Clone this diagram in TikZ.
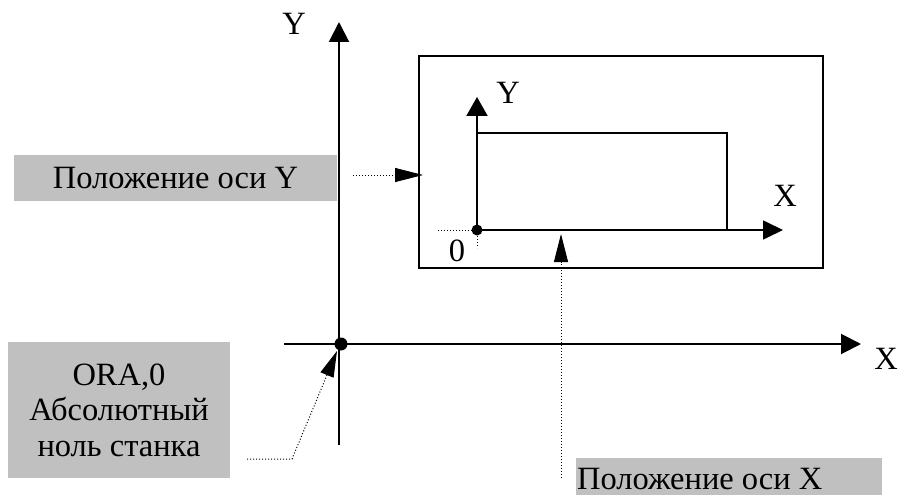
\documentclass[tikz,border=0pt]{standalone}
\usepackage{fontspec}
\setmainfont{Liberation Serif}
\usetikzlibrary{arrows.meta}
\definecolor{boxgray}{HTML}{C0C0C0}
\begin{document}
\begin{tikzpicture}[x=1pt,y=-1pt,
  lbl/.style={font=\fontsize{32.5}{35.5}\selectfont, inner sep=0pt},
  graybox/.style={fill=boxgray, inner sep=0pt},
  axis/.style={line width=2pt, -{Triangle[length=20pt,width=20pt]}},
  pointer/.style={dotted, line width=1pt, -{Triangle[length=28pt,width=14pt]}},
  dot/.style={circle, fill=black, inner sep=0pt, minimum size=#1},
  ]
\useasboundingbox (0,0) rectangle (898,495);

% gray label boxes
\node[graybox, minimum width=323pt, minimum height=46pt, lbl] (ybox) at (175.5,178) {Положение оси Y};
\node[graybox, minimum width=222pt, minimum height=136pt, lbl, align=center] (obox) at (119,410) {ORA,0\\Абсолютный\\ноль станка};
\node[graybox, minimum width=306pt, minimum height=37pt] (xbox) at (729,476.5) {};
\node[lbl, anchor=base west] (xboxtext) at (577,489) {Положение оси X};

% machine axes
\coordinate (yb) at (339,445);
\coordinate (yt) at (339,22);
\coordinate (xl) at (284,344);
\coordinate (xr) at (861,344);
\draw[axis] (yb) -- (yt);
\draw[axis] (xl) -- (xr);
\node[dot=13pt] (org) at (341,344) {};
\node[lbl] (ylab) at (294,24) {Y};
\node[lbl] (xlab) at (886,359) {X};

% workpiece frame
\node[draw, line width=2.5pt, minimum width=404pt, minimum height=212pt, inner sep=0pt] (frame) at (621,162) {};
\node[draw, line width=2pt, minimum width=250pt, minimum height=97pt, inner sep=0pt] (part) at (602,181.5) {};

% workpiece axes
\coordinate (wo) at (477,230);
\coordinate (wyt) at (477,97);
\coordinate (wxr) at (783,230);
\draw[line width=2pt, -{Triangle[length=19pt,width=21pt]}] (wo) -- (wyt);
\draw[line width=1.6pt, -{Triangle[length=20pt,width=19pt]}] (wo) -- (wxr);
\coordinate (wl) at (438,230);
\coordinate (wd) at (477,248);
\draw[dotted, line width=1pt] (wl) -- (wo);
\draw[dotted, line width=1pt] (wo) -- (wd);
\node[dot=11pt] (wdot) at (wo) {};
\node[lbl] (wylab) at (508,93) {Y};
\node[lbl] (wxlab) at (785,196) {X};
\node[lbl] (zlab) at (457,251) {0};

% pointers
\coordinate (ps) at (353,175);
\coordinate (pe) at (423,175);
\draw[pointer] (ps) -- (pe);
\coordinate (qs) at (561,478);
\coordinate (qe) at (561,234);
\draw[pointer] (qs) -- (qe);
\coordinate (rs) at (247,459);
\coordinate (rm) at (292,459);
\coordinate (re) at (337,351);
\draw[pointer, -{Triangle[length=26pt,width=14pt]}] (rs) -- (rm) -- (re);
\end{tikzpicture}
\end{document}
